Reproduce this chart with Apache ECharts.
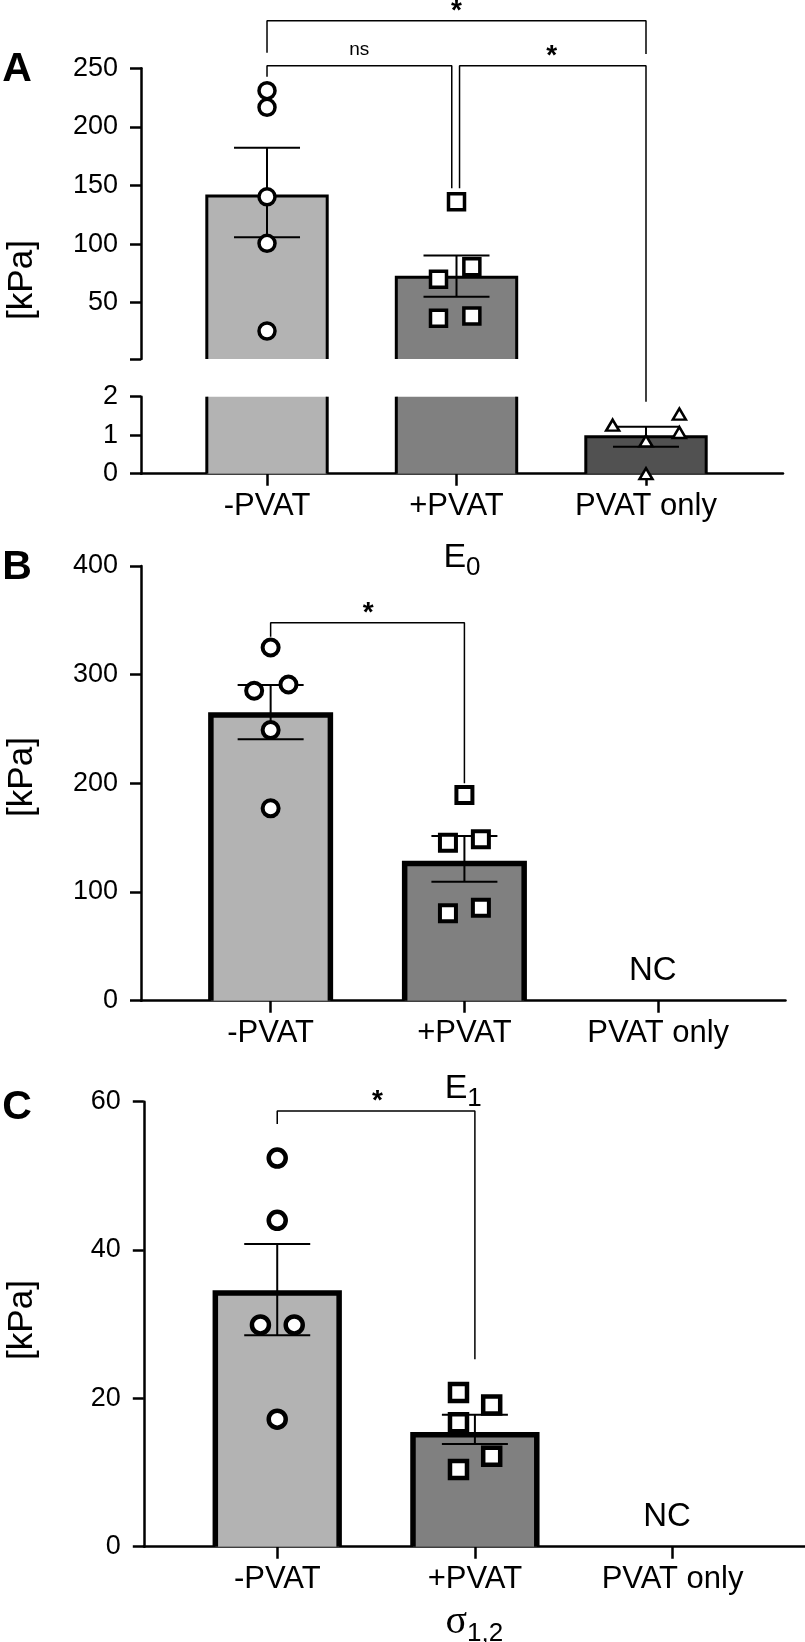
<!DOCTYPE html>
<html>
<head>
<meta charset="utf-8">
<script src="https://cdn.jsdelivr.net/npm/echarts@6.0.0/dist/echarts.min.js"></script>
<style>
  html, body { margin: 0; padding: 0; background: #fff; }
  #chart { width: 805px; height: 1642px; }
</style>
</head>
<body>
<div id="chart"></div>
<script>
const FONT = "'Liberation Sans', Arial, Helvetica, sans-serif"

const groups = ['-PVAT', '+PVAT', 'PVAT only']
const fills = ['#b3b3b3', '#808080', '#515151']
const shapes = ['circle', 'rect', 'triangle']

// A: E0, y axis broken at 2 kPa
const e0Break = 2
const e0TopTicks = [2, 50, 100, 150, 200, 250]
const e0TopLabels = [50, 100, 150, 200, 250]
const e0Mean = [141, 71.7, 0.96]
const e0Sem = [[105.8, 182.3], [55.1, 90.4], [0.7, 1.22]]
const e0Points = [[230.9, 216.7, 140.4, 100.7, 25.9], [136.2, 70, 80.7, 36.7, 38.7], [1.26, 1.55, 1.07, 0.85, 0]]
const e0Jitter = [[0, 0, 0, 0, 0], [0, -0.095, 0.081, -0.095, 0.081], [-0.176, 0.176, 0.176, 0, 0]]
const e0Brackets = [
  [[0, 263.3], [0, 290.6], [2, 290.6], [2, 262.2]],
  [[0, 242.8], [0, 252.2], [0.975, 252.2], [0.975, 147.6]],
  [[1.016, 147.6], [1.016, 252.2], [2, 252.2], [2, -34.5]],
]
const e0Marks = [[1, 303.2, '*'], [0.487, 265.6, 'ns'], [1.503, 264.2, '*']]

// B: E1
const e1Mean = [263, 126.2, null]
const e1Sem = [[240.5, 290.4], [109.5, 151.5], null]
const e1Points = [[325, 285.2, 291, 249, 177], [189.2, 145.4, 148.5, 80.4, 85.6], []]
const e1Jitter = [[0, -0.085, 0.092, 0, 0], [0, -0.085, 0.085, -0.085, 0.085], []]
const e1Brackets = [[[0, 334.9], [0, 347.7], [1, 347.7], [1, 200]]]
const e1Marks = [[0.503, 361, '*'], [1.972, 27, 'NC']]

// C: sigma 1,2
const s12Mean = [34.2, 15.1, null]
const s12Sem = [[28.5, 40.8], [13.85, 17.8], null]
const s12Points = [[52.4, 44, 29.9, 29.9, 17.2], [20.8, 19.1, 16.7, 12.2, 10.4], []]
const s12Jitter = [[0, 0, -0.085, 0.086, 0], [-0.083, 0.085, -0.083, 0.085, -0.083], []]
const s12Brackets = [[[0, 57], [0, 58.74], [1, 58.74], [1, 25.27]]]
const s12Marks = [[0.507, 60.67, '*'], [1.972, 4, 'NC']]

const markFonts = {
  '*': { font: `bold 28px ${FONT}`, dy: 5 },
  'ns': { font: `19px ${FONT}`, dy: 0 },
  'NC': { font: `33px ${FONT}`, dy: 0 },
}

const chart = echarts.init(document.getElementById('chart'), null, { renderer: 'canvas' })

// bar drawn from `base`; if it runs past the top of the grid the top edge is left open
function barItem(half, base, lineWidth) {
  return (params, api) => {
    const x = api.value(0)
    const v = api.value(1)
    if (isNaN(v) || v <= base) return null
    const cs = params.coordSys
    const b = api.coord([x, base])
    const t = api.coord([x, v])
    const cut = t[1] < cs.y
    const top = cut ? cs.y : t[1]
    const l = b[0] - half
    const r = b[0] + half
    const stroke = { stroke: '#000', lineWidth, fill: null }
    const edges = cut
      ? [
          { type: 'polyline', shape: { points: [[l, top], [l, b[1]]] }, style: stroke },
          { type: 'polyline', shape: { points: [[r, top], [r, b[1]]] }, style: stroke },
        ]
      : [{ type: 'polyline', shape: { points: [[l, b[1]], [l, top], [r, top], [r, b[1]]] }, style: stroke }]
    return {
      type: 'group',
      children: [{ type: 'rect', shape: { x: l, y: top, width: r - l, height: b[1] - top }, style: { fill: api.visual('color') } }].concat(edges),
    }
  }
}

function semItem(capHalf, lineWidth) {
  return (params, api) => {
    const x = api.value(0)
    const lo = api.coord([x, api.value(1)])
    const hi = api.coord([x, api.value(2)])
    const style = { stroke: '#000', lineWidth }
    return {
      type: 'group',
      children: [
        { type: 'line', shape: { x1: lo[0], y1: lo[1], x2: hi[0], y2: hi[1] }, style },
        { type: 'line', shape: { x1: lo[0] - capHalf, y1: lo[1], x2: lo[0] + capHalf, y2: lo[1] }, style },
        { type: 'line', shape: { x1: hi[0] - capHalf, y1: hi[1], x2: hi[0] + capHalf, y2: hi[1] }, style },
      ],
    }
  }
}

function markItem(marks) {
  return (params, api) => {
    const p = api.coord([api.value(0), api.value(1)])
    const text = marks[params.dataIndex][2]
    const f = markFonts[text]
    return {
      type: 'text', x: p[0], y: p[1] + f.dy,
      style: { text, font: f.font, fill: '#000', align: 'center', verticalAlign: 'middle' },
    }
  }
}

// one panel; axes = [{ index, base }], axisOf picks the grid for a value
function panel(p) {
  const out = []
  p.axes.forEach((ax) => {
    out.push({
      type: 'custom', xAxisIndex: ax.index, yAxisIndex: ax.index, z: 2,
      renderItem: barItem(p.look.half, ax.base, p.look.border),
      encode: { x: 0, y: 1 },
      data: p.means.map((m, g) => (m == null ? null : { value: [g, m], itemStyle: { color: fills[g] } })).filter(Boolean),
    })
  })
  p.axes.forEach((ax) => {
    const data = p.sem.map((s, g) => (s && p.axisOf(s[1]) === ax.index ? [g, s[0], s[1]] : null)).filter(Boolean)
    if (data.length) {
      out.push({
        type: 'custom', xAxisIndex: ax.index, yAxisIndex: ax.index, z: 3,
        renderItem: semItem(33, 2), encode: { x: 0, y: [1, 2] }, data,
      })
    }
  })
  p.points.forEach((vals, g) => {
    p.axes.forEach((ax) => {
      const data = vals.map((v, i) => [g + p.jitter[g][i], v]).filter((d) => p.axisOf(d[1]) === ax.index)
      if (!data.length) return
      out.push({
        type: 'scatter', xAxisIndex: ax.index, yAxisIndex: ax.index, z: 5, clip: false,
        symbol: shapes[g], symbolSize: g === 2 ? [13, 11] : p.look.dot,
        itemStyle: { color: '#fff', borderColor: '#000', borderWidth: g === 2 ? 2.5 : p.look.ring, opacity: 1 },
        data,
      })
    })
  })
  p.brackets.forEach((br) => {
    out.push({
      type: 'line', xAxisIndex: p.axes[0].index, yAxisIndex: p.axes[0].index, z: 4, clip: false,
      symbol: 'none', lineStyle: { color: '#000', width: 1.5 }, data: br,
    })
  })
  out.push({
    type: 'custom', xAxisIndex: p.axes[0].index, yAxisIndex: p.axes[0].index, z: 6,
    renderItem: markItem(p.marks), encode: { x: 0, y: 1 },
    data: p.marks.map((m) => [m[0], m[1]]),
  })
  return out
}

const axisLine = { show: true, onZero: false, lineStyle: { color: '#000', width: 2.5 } }

function yAxis(grid, min, max, extra) {
  return Object.assign({
    type: 'value', gridIndex: grid, min, max,
    axisLine,
    axisTick: { show: true, length: 11, lineStyle: { color: '#000', width: 2.5 } },
    axisLabel: { color: '#000', fontSize: 27, fontFamily: FONT, margin: 23 },
    splitLine: { show: false },
  }, extra)
}

function xAxis(grid, min, max, show, name, nameGap, rich) {
  return {
    type: 'value', gridIndex: grid, min, max, show,
    axisLine,
    axisTick: { show: true, length: 12, customValues: [0, 1, 2], lineStyle: { color: '#000', width: 2.5 } },
    axisLabel: {
      customValues: [0, 1, 2], formatter: (v) => groups[Math.round(v)],
      color: '#000', fontSize: 31, fontFamily: FONT, margin: 17,
    },
    splitLine: { show: false },
    name, nameLocation: 'middle', nameGap, nameMoveOverlap: false,
    nameTextStyle: { rich },
  }
}

const subRich = (mainFont, mainSize, subSize, pad) => ({
  m: { fontSize: mainSize, fontFamily: mainFont, color: '#000' },
  s: { fontSize: subSize, fontFamily: FONT, color: '#000', padding: [pad, 0, 0, 0] },
})

const series = [].concat(
  panel({
    axes: [{ index: 0, base: e0Break }, { index: 1, base: 0 }],
    axisOf: (v) => (v >= e0Break ? 0 : 1),
    means: e0Mean, sem: e0Sem, points: e0Points, jitter: e0Jitter,
    brackets: e0Brackets, marks: e0Marks,
    look: { half: 60.2, border: 3, dot: 16, ring: 3.5 },
  }),
  panel({
    axes: [{ index: 2, base: 0 }], axisOf: () => 2,
    means: e1Mean, sem: e1Sem, points: e1Points, jitter: e1Jitter,
    brackets: e1Brackets, marks: e1Marks,
    look: { half: 59.75, border: 5.5, dot: 16, ring: 4 },
  }),
  panel({
    axes: [{ index: 3, base: 0 }], axisOf: () => 3,
    means: s12Mean, sem: s12Sem, points: s12Points, jitter: s12Jitter,
    brackets: s12Brackets, marks: s12Marks,
    look: { half: 61.9, border: 5.5, dot: 17, ring: 4.5 },
  }),
)

const sideText = (text, x, y, font, rotation) => ({
  type: 'text', x, y, rotation: rotation || 0,
  style: { text, font, fill: '#000', align: 'center', verticalAlign: 'middle' },
})

chart.setOption({
  animation: false,
  backgroundColor: '#fff',
  grid: [
    { left: 141, top: 68.3, width: 642, height: 290.7, outerBoundsMode: 'none' },
    { left: 141, top: 396.7, width: 642, height: 77, outerBoundsMode: 'none' },
    { left: 141, top: 566, width: 644.5, height: 434.7, outerBoundsMode: 'none' },
    { left: 143.8, top: 1101.7, width: 661.2, height: 445, outerBoundsMode: 'none' },
  ],
  xAxis: [
    xAxis(0, -0.665, 2.723, false),
    xAxis(1, -0.665, 2.723, true, '{m|E}{s|0}', 61, subRich(FONT, 34, 26, 20)),
    xAxis(2, -0.669, 2.657, true, '{m|E}{s|1}', 65, subRich(FONT, 34, 26, 20)),
    xAxis(3, -0.675, 2.67, true, '{m|σ}{s|1,2}', 52, subRich("'Liberation Serif', 'DejaVu Serif', serif", 40, 26, 22)),
  ],
  yAxis: [
    yAxis(0, e0Break, 250, {
      axisTick: { show: true, length: 11, customValues: e0TopTicks, lineStyle: { color: '#000', width: 2.5 } },
      axisLabel: { color: '#000', fontSize: 27, fontFamily: FONT, margin: 23, customValues: e0TopLabels },
    }),
    yAxis(1, 0, 2, { interval: 1 }),
    yAxis(2, 0, 400, { interval: 100 }),
    yAxis(3, 0, 60, { interval: 20 }),
  ],
  graphic: [
    sideText('A', 17, 70, `bold 41px ${FONT}`),
    sideText('B', 17, 568, `bold 41px ${FONT}`),
    sideText('C', 17, 1108, `bold 41px ${FONT}`),
    sideText('[kPa]', 22, 280, `35px ${FONT}`, Math.PI / 2),
    sideText('[kPa]', 22, 777, `35px ${FONT}`, Math.PI / 2),
    sideText('[kPa]', 22, 1320, `35px ${FONT}`, Math.PI / 2),
  ],
  series,
})
</script>
</body>
</html>
